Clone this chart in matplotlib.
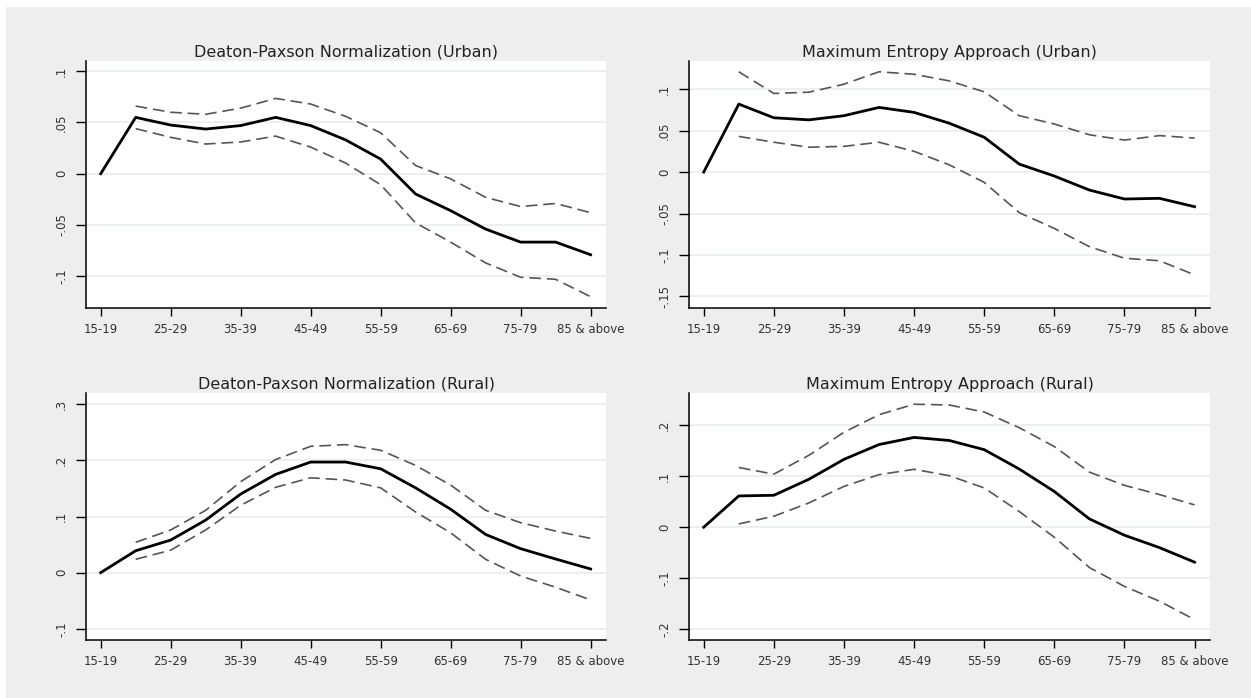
import numpy as np
import matplotlib
matplotlib.use("Agg")
import matplotlib.pyplot as plt
from matplotlib.patches import Rectangle

plt.rcParams['font.family'] = ['DejaVu Sans']

age_groups = ['15-19', '20-24', '25-29', '30-34', '35-39', '40-44', '45-49', '50-54',
              '55-59', '60-64', '65-69', '70-74', '75-79', '80-84', '85 & above']

# Deaton-Paxson, urban
dp_urban = [0, 0.055, 0.0475, 0.0436, 0.047, 0.055, 0.047, 0.033, 0.0143, -0.0198,
            -0.036, -0.054, -0.0667, -0.0667, -0.079]
dp_urban_hi = [np.nan, 0.066, 0.060, 0.058, 0.064, 0.0735, 0.068, 0.056, 0.040, 0.008,
               -0.005, -0.023, -0.032, -0.029, -0.038]
dp_urban_lo = [np.nan, 0.044, 0.0355, 0.029, 0.031, 0.0367, 0.026, 0.0104, -0.0107, -0.048,
               -0.0667, -0.087, -0.101, -0.103, -0.120]

# Maximum entropy, urban
me_urban = [0, 0.082, 0.0655, 0.063, 0.068, 0.078, 0.072, 0.059, 0.042, 0.0096,
            -0.0048, -0.0217, -0.0325, -0.0317, -0.0418]
me_urban_hi = [np.nan, 0.121, 0.0948, 0.0964, 0.106, 0.121, 0.118, 0.110, 0.0968, 0.068,
               0.058, 0.045, 0.0386, 0.044, 0.041]
me_urban_lo = [np.nan, 0.043, 0.036, 0.030, 0.031, 0.036, 0.025, 0.0088, -0.0124, -0.049,
               -0.068, -0.090, -0.104, -0.107, -0.124]

# Deaton-Paxson, rural
dp_rural = [0, 0.039, 0.058, 0.0936, 0.140, 0.175, 0.197, 0.197, 0.185, 0.151,
            0.113, 0.068, 0.0427, 0.0243, 0.0065]
dp_rural_hi = [np.nan, 0.054, 0.076, 0.111, 0.162, 0.2015, 0.225, 0.228, 0.218, 0.191,
               0.156, 0.111, 0.089, 0.074, 0.061]
dp_rural_lo = [np.nan, 0.0237, 0.040, 0.076, 0.120, 0.152, 0.169, 0.165, 0.151, 0.108,
               0.071, 0.0237, -0.006, -0.026, -0.0486]

# Maximum entropy, rural
me_rural = [0, 0.0613, 0.0626, 0.094, 0.133, 0.162, 0.176, 0.170, 0.152, 0.114,
            0.070, 0.0163, -0.0157, -0.040, -0.0685]
me_rural_hi = [np.nan, 0.117, 0.104, 0.141, 0.186, 0.2205, 0.241, 0.2395, 0.2257, 0.195,
               0.158, 0.108, 0.082, 0.064, 0.0437]
me_rural_lo = [np.nan, 0.0065, 0.0215, 0.0476, 0.080, 0.103, 0.1135, 0.101, 0.077, 0.0307,
               -0.0196, -0.079, -0.116, -0.145, -0.181]

panels = [
    ("Deaton-Paxson Normalization (Urban)", dp_urban, dp_urban_hi, dp_urban_lo,
     [-0.1, -0.05, 0, 0.05, 0.1], ['-.1', '-.05', '0', '.05', '.1'], (-0.131, 0.110)),
    ("Maximum Entropy Approach (Urban)", me_urban, me_urban_hi, me_urban_lo,
     [-0.15, -0.1, -0.05, 0, 0.05, 0.1], ['-.15', '-.1', '-.05', '0', '.05', '.1'], (-0.164, 0.134)),
    ("Deaton-Paxson Normalization (Rural)", dp_rural, dp_rural_hi, dp_rural_lo,
     [-0.1, 0, 0.1, 0.2, 0.3], ['-.1', '0', '.1', '.2', '.3'], (-0.12, 0.32)),
    ("Maximum Entropy Approach (Rural)", me_rural, me_rural_hi, me_rural_lo,
     [-0.2, -0.1, 0, 0.1, 0.2], ['-.2', '-.1', '0', '.1', '.2'], (-0.221, 0.263)),
]

W, H = 1251, 698
fig = plt.figure(figsize=(W / 100, H / 100), dpi=100, facecolor='white')
fig.patches.append(Rectangle((6 / W, 0), 1 - 6 / W, 1 - 7 / H, transform=fig.transFigure,
                             facecolor='#eeeeee', edgecolor='none', zorder=-10))

# axes boxes in pixels: left, top, right, bottom
boxes = [(86, 61, 606, 308), (689, 61, 1210, 308),
         (86, 393, 606, 640), (689, 393, 1210, 640)]

x = np.arange(len(age_groups))
tick_idx = x[::2]

for (title, mid, hi, lo, yt, ytl, ylim), (l, t, r, b) in zip(panels, boxes):
    ax = fig.add_axes([l / W, 1 - b / H, (r - l) / W, (b - t) / H])
    ax.set_facecolor('white')
    for yv in yt:
        ax.axhline(yv, color='#e6ecee', lw=1.2, zorder=1)
    ax.plot(x, hi, color='#555555', lw=1.2, dashes=(7, 3.5), zorder=2)
    ax.plot(x, lo, color='#555555', lw=1.2, dashes=(7, 3.5), zorder=2)
    ax.plot(x, mid, color='black', lw=2.0, zorder=3)
    ax.set_xlim(-0.42, 14.44)
    ax.set_ylim(*ylim)
    ax.set_xticks(tick_idx)
    ax.set_xticklabels([age_groups[i] for i in tick_idx], fontsize=8.5)
    ax.set_yticks(yt)
    ax.set_yticklabels(ytl, fontsize=8.5, rotation=90, va='center')
    ax.spines['top'].set_visible(False)
    ax.spines['right'].set_visible(False)
    ax.spines['left'].set_linewidth(1.1)
    ax.spines['bottom'].set_linewidth(1.1)
    ax.tick_params(axis='x', direction='out', length=6, width=1, pad=5,
                   colors='black', labelcolor='#333333')
    ax.tick_params(axis='y', direction='out', length=7, width=1, pad=6,
                   colors='black', labelcolor='#333333')
    ax.set_title(title, fontsize=11.5, color='#222222', pad=3)

fig.savefig('out.png', dpi=100, facecolor=fig.get_facecolor())
